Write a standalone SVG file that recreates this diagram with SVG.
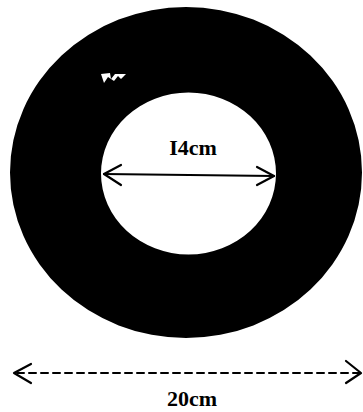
<svg xmlns="http://www.w3.org/2000/svg" width="363" height="412" viewBox="0 0 363 412">
<style>
.lbl{font-family:"Liberation Serif","Times New Roman",serif;font-size:22px;fill:#000;text-anchor:middle}
.ln{stroke:#000;fill:none;stroke-linecap:round;stroke-linejoin:round}
</style>
<rect width="363" height="412" fill="#fff"/>
<g id="ring">
<path d="M10,172.5 A176,165.5 0 1 0 362,172.5 A176,165.5 0 1 0 10,172.5 Z M101,173.5 A87.5,81 0 1 1 276,173.5 A87.5,81 0 1 1 101,173.5 Z" fill="#000" fill-rule="evenodd"/>
<path d="M101,74 L110,73 L111,79 L115,74 L126,74 L121,79 L118,76 L114,81 L108,77 L104,83 Z" fill="#fff"/>
</g>
<g id="inner-label">
<text class="lbl" x="193" y="155" font-weight="bold">I4cm</text>
</g>
<g id="connectors">
<path class="ln" d="M104,174 L274,176" stroke-width="2.2"/>
<path class="ln" d="M121,165 L104,174 L121,185" stroke-width="2.2"/>
<path class="ln" d="M257,167 L274,176 L257,185" stroke-width="2.2"/>
<path class="ln" d="M17,373 L359,373" stroke-width="2" stroke-dasharray="7 5" stroke-linecap="butt"/>
<path class="ln" d="M31,364 L14,373 L31,383" stroke-width="2.2"/>
<path class="ln" d="M346,361 L361,373 L346,383" stroke-width="2.2"/>
</g>
<g id="outer-label">
<text class="lbl" x="192" y="406" font-weight="bold">20cm</text>
</g>
</svg>
